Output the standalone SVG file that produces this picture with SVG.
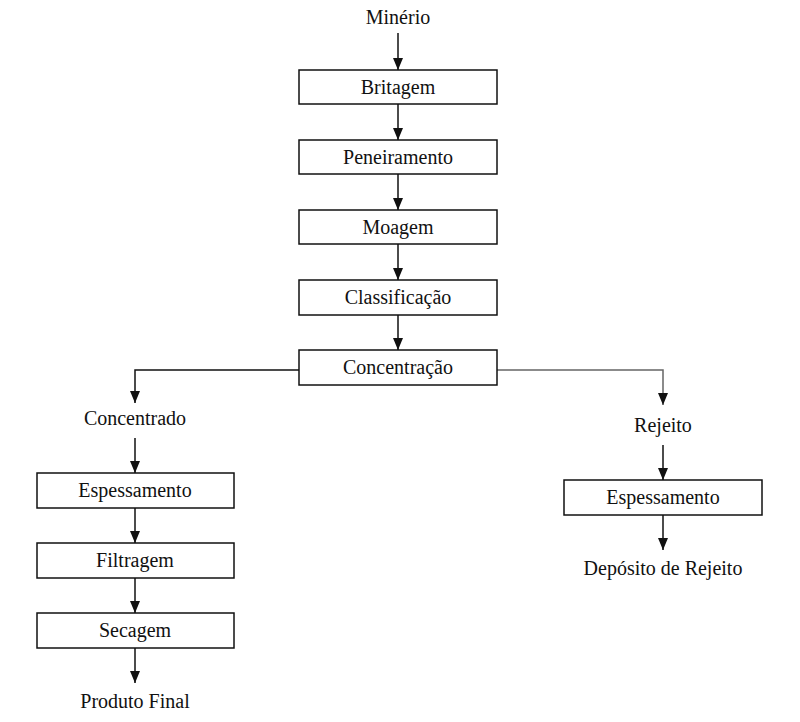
<svg xmlns="http://www.w3.org/2000/svg" width="800" height="722" viewBox="0 0 800 722">
<defs>
<marker id="ah" viewBox="0 0 12 10" refX="12" refY="5" markerWidth="12" markerHeight="10" markerUnits="userSpaceOnUse" orient="auto">
<path d="M0,0 L12,5 L0,10 z" fill="#111"/>
</marker>
<style>
.box{fill:#fff;stroke:#111;stroke-width:1.5}
.t{font-family:"Liberation Serif","Times New Roman",serif;font-size:20px;fill:#111;text-anchor:middle}
.c{fill:none;stroke:#111;stroke-width:1.5}
.g{fill:none;stroke:#666;stroke-width:1.5}
</style>
</defs>
<rect width="800" height="722" fill="#fff"/>
<g id="connectors">
<path class="c" d="M398,33 V70" marker-end="url(#ah)"/>
<path class="c" d="M398,104 V140" marker-end="url(#ah)"/>
<path class="c" d="M398,174 V210" marker-end="url(#ah)"/>
<path class="c" d="M398,244 V280" marker-end="url(#ah)"/>
<path class="c" d="M398,315 V350" marker-end="url(#ah)"/>
<path class="c" d="M299,370 H135 V403" marker-end="url(#ah)"/>
<path class="g" d="M497,370 H663 V405" marker-end="url(#ah)"/>
<path class="c" d="M135,438 V473" marker-end="url(#ah)"/>
<path class="c" d="M135,508 V543" marker-end="url(#ah)"/>
<path class="c" d="M135,578 V613" marker-end="url(#ah)"/>
<path class="c" d="M135,648 V683" marker-end="url(#ah)"/>
<path class="c" d="M663,445 V480" marker-end="url(#ah)"/>
<path class="c" d="M663,515 V550" marker-end="url(#ah)"/>
</g>
<g id="minerio"><text class="t" x="398" y="24">Minério</text></g>
<g id="britagem"><rect class="box" x="299" y="70" width="198" height="34"/><text class="t" x="398" y="94">Britagem</text></g>
<g id="peneiramento"><rect class="box" x="299" y="140" width="198" height="34"/><text class="t" x="398" y="164">Peneiramento</text></g>
<g id="moagem"><rect class="box" x="299" y="210" width="198" height="34"/><text class="t" x="398" y="234">Moagem</text></g>
<g id="classificacao"><rect class="box" x="299" y="280" width="198" height="35"/><text class="t" x="398" y="304">Classificação</text></g>
<g id="concentracao"><rect class="box" x="299" y="350" width="198" height="35"/><text class="t" x="398" y="374">Concentração</text></g>
<g id="concentrado"><text class="t" x="135" y="425">Concentrado</text></g>
<g id="espessamento1"><rect class="box" x="37" y="473" width="197" height="35"/><text class="t" x="135" y="497">Espessamento</text></g>
<g id="filtragem"><rect class="box" x="37" y="543" width="197" height="35"/><text class="t" x="135" y="567">Filtragem</text></g>
<g id="secagem"><rect class="box" x="37" y="613" width="197" height="35"/><text class="t" x="135" y="637">Secagem</text></g>
<g id="produto"><text class="t" x="135" y="708">Produto Final</text></g>
<g id="rejeito"><text class="t" x="663" y="432">Rejeito</text></g>
<g id="espessamento2"><rect class="box" x="564" y="480" width="198" height="35"/><text class="t" x="663" y="504">Espessamento</text></g>
<g id="deposito"><text class="t" x="663" y="575">Depósito de Rejeito</text></g>
</svg>
